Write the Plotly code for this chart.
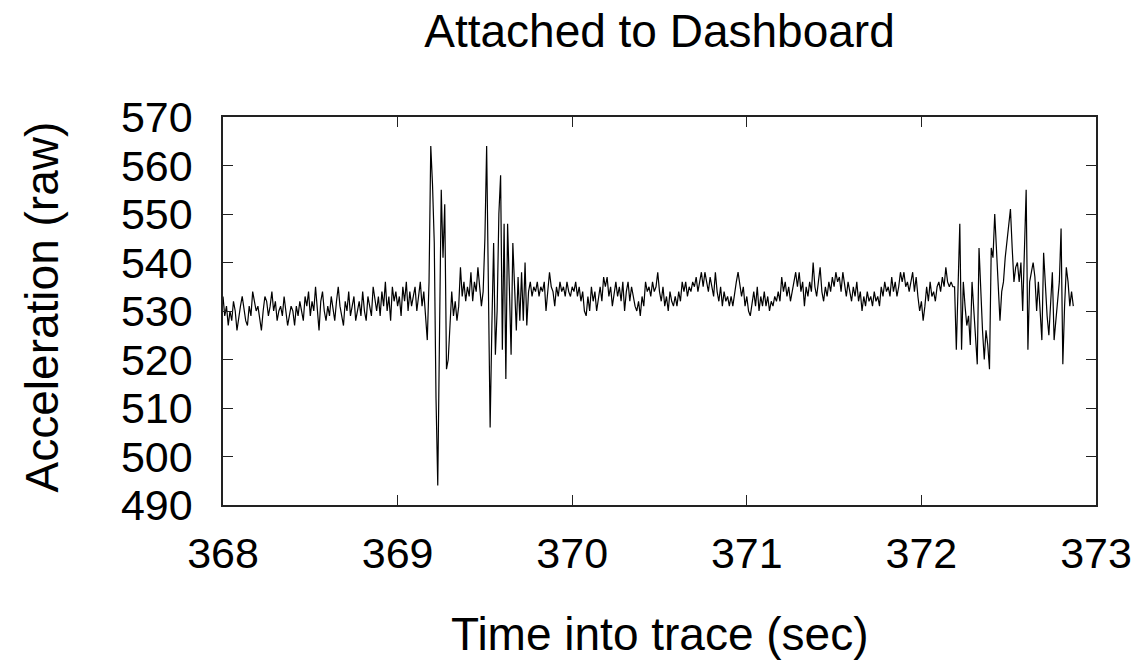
import plotly.graph_objects as go

# ---- data (raw accelerometer samples, 100 Hz, starting at 368.00 s) ----
T_START = 368.0
DT = 0.01

accel = [
    # 368.0
    533, 529, 531, 527, 530, 528, 532, 530, 526, 529,
    531, 533, 530, 528, 527, 531, 529, 534, 532, 530,
    531, 528, 526, 530, 533, 532, 529, 531, 534, 530,
    532, 528, 530, 531, 529, 533, 530, 527, 529, 531,
    530, 527, 531, 529, 532, 530, 528, 533, 531, 534,
    529, 532, 530, 535, 531, 526, 532, 534, 530, 528,
    531, 529, 533, 530, 528, 532, 535, 531, 529, 527,
    532, 530, 534, 529, 531, 533, 528, 530, 532, 529,
    534, 530, 528, 533, 531, 529, 535, 532, 530, 533,
    529, 534, 531, 536, 530, 533, 528, 535, 532, 534,
    # 369.0
    531, 533, 529, 535, 532, 536, 530, 534, 531, 533,
    535, 530, 533, 536, 531, 534, 529, 524, 536, 564,
    556, 544, 512, 494, 525, 555, 541, 552, 518, 520,
    527, 534, 529, 532, 528, 531, 539, 533, 536, 532,
    535, 533, 538, 532, 536, 534, 539, 535, 531, 534,
    545, 564, 535, 506, 527, 544, 521, 530, 550, 558,
    522, 548, 516, 548, 535, 521, 544, 536, 526, 537,
    528, 538, 528, 540, 527, 534, 536, 533, 535, 534,
    536, 533, 535, 534, 536, 530, 534, 538, 535, 534,
    531, 535, 533, 536, 534, 535, 533, 536, 534, 533,
    # 370.0
    535, 534, 536, 533, 535, 532, 534, 530, 529, 533,
    530, 535, 532, 534, 530, 533, 535, 532, 537, 535,
    537, 533, 535, 531, 534, 536, 533, 535, 532, 536,
    530, 534, 536, 532, 535, 533, 531, 530, 532, 529,
    533, 531, 536, 534, 535, 533, 536, 534, 535, 538,
    534, 532, 535, 531, 533, 530, 534, 532, 531, 533,
    531, 534, 532, 536, 534, 536, 533, 535, 534, 536,
    535, 537, 534, 536, 538, 535, 538, 536, 534, 537,
    535, 533, 538, 534, 532, 535, 531, 534, 532, 533,
    531, 533, 531, 534, 536, 538, 535, 533, 535, 531,
    # 371.0
    533, 530, 529, 532, 534, 531, 535, 530, 533, 531,
    534, 531, 533, 530, 532, 531, 533, 532, 534, 532,
    537, 534, 536, 533, 535, 532, 534, 536, 538, 535,
    538, 534, 536, 531, 535, 533, 536, 534, 540, 535,
    533, 536, 539, 534, 532, 535, 533, 536, 534, 537,
    535, 538, 536, 537, 534, 538, 535, 533, 536, 534,
    532, 535, 533, 536, 532, 534, 530, 533, 531, 534,
    532, 533, 531, 534, 532, 533, 531, 535, 533, 536,
    534, 535, 533, 537, 534, 536, 533, 535, 538, 536,
    538, 535, 536, 534, 536, 538, 534, 537, 533, 530,
    # 372.0
    532, 528, 531, 535, 532, 536, 533, 534, 532, 535,
    536, 534, 537, 535, 539, 536, 535, 536, 535, 535,
    522, 535, 548, 522, 536, 531, 527, 529, 523, 536,
    531, 526, 519, 543, 533, 526, 520, 526, 523, 518,
    543, 541, 550, 543, 536, 528, 534, 536, 541, 544,
    547, 551, 543, 536, 539, 540, 536, 540, 530, 543,
    555, 522, 536, 538, 540, 537, 530, 536, 530, 524,
    542, 534, 529, 525, 533, 538, 524, 528, 532, 536,
    547, 519, 531, 539, 536, 531, 534, 531,
]

time_s = [round(T_START + i * DT, 2) for i in range(len(accel))]

x_ticks = [368, 369, 370, 371, 372, 373]
y_ticks = [490, 500, 510, 520, 530, 540, 550, 560, 570]

TITLE = "Attached to Dashboard"
X_LABEL = "Time into trace (sec)"
Y_LABEL = "Acceleration (raw)"

FONT = "Liberation Sans, Arial, Helvetica, sans-serif"

fig = go.Figure(
    go.Scatter(
        x=time_s,
        y=accel,
        mode="lines",
        line=dict(color="#000000", width=1.2),
        hoverinfo="skip",
    )
)

axis_common = dict(
    ticks="inside",
    ticklen=10,
    tickwidth=1.2,
    tickcolor="#222222",
    showline=True,
    linecolor="#222222",
    linewidth=1.5,
    mirror="allticks",
    showgrid=False,
    zeroline=False,
    tickfont=dict(family=FONT, size=43, color="black"),
)

fig.update_xaxes(range=[368, 373], tickvals=x_ticks, ticktext=[str(v) for v in x_ticks],
                 ticklabelstandoff=10, **axis_common)
fig.update_yaxes(range=[490, 570], tickvals=y_ticks, ticktext=[str(v) for v in y_ticks],
                 ticklabelstandoff=20, **axis_common)

fig.update_layout(
    width=1146,
    height=661,
    margin=dict(l=223, r=50, t=117, b=156),
    paper_bgcolor="white",
    plot_bgcolor="white",
    showlegend=False,
    font=dict(family=FONT, color="black"),
    title=dict(text=TITLE, x=0.5, xref="paper", xanchor="center",
               y=1 - 31 / 661, yref="container", yanchor="middle",
               font=dict(family=FONT, size=46, color="black")),
    annotations=[
        dict(text=X_LABEL, xref="paper", yref="paper", x=0.5, y=-0.332,
             xanchor="center", yanchor="middle", showarrow=False,
             font=dict(family=FONT, size=46, color="black")),
        dict(text=Y_LABEL, xref="paper", yref="paper", x=-0.207, y=0.51,
             xanchor="center", yanchor="middle", textangle=-90, showarrow=False,
             font=dict(family=FONT, size=46, color="black")),
    ],
)

fig.write_html("out.html")
